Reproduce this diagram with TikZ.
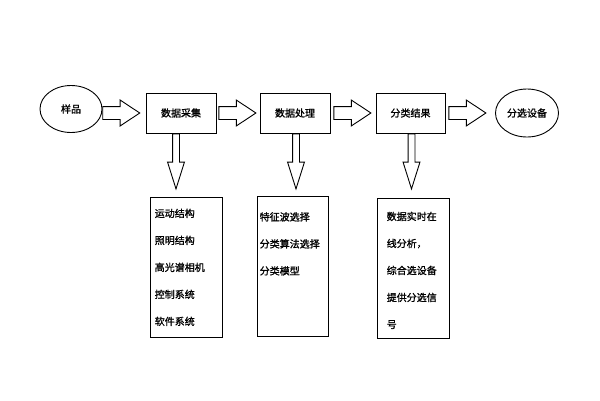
\documentclass[tikz,border=0pt]{standalone}
\usepackage{fontspec}
\usepackage{tikz}
\usetikzlibrary{shapes.geometric, shapes.arrows, positioning, calc}
\newfontfamily\cjk[FakeBold=1.2]{Noto Sans CJK SC}

\begin{document}
\begin{tikzpicture}[x=1pt, y=-1pt, font=\cjk\fontsize{10}{12}\selectfont,
  box/.style={draw, line width=0.9pt, minimum width=70pt, minimum height=40pt},
  oval/.style={draw, ellipse, line width=0.9pt, inner sep=0pt},
  listbox/.style={draw, line width=0.9pt, minimum width=72pt, minimum height=140pt},
  listtext/.style={anchor=north west, inner sep=0pt, align=left, font=\cjk\fontsize{10}{27}\selectfont},
  rarrow/.style={draw, line width=0.9pt, single arrow, inner sep=6pt, single arrow head extend=6.5pt, single arrow tip angle=67, minimum height=37pt},
  darrow/.style={draw, line width=0.9pt, single arrow, shape border rotate=270, inner sep=3pt, single arrow head extend=5pt, single arrow tip angle=35, minimum height=55pt}]
  \useasboundingbox (0,0) rectangle (600,400);

  % top row
  \node (sample) [oval, minimum width=62pt, minimum height=47pt] at (71,109) {样品};
  \node (collect) [box] at (181,113) {数据采集};
  \node (process) [box] at (295,113) {数据处理};
  \node (result) [box, minimum width=69pt] at (410.5,113) {分类结果};
  \node (device) [oval, minimum width=63pt, minimum height=48pt] at (527,113) {分选设备};

  \node (a1) [rarrow, anchor=tip] at ([xshift=-5pt]collect.west) {};
  \node (a2) [rarrow, anchor=tail] at ([xshift=2pt]collect.east) {};
  \node (a3) [rarrow, anchor=tail] at ([xshift=3pt]process.east) {};
  \node (a4) [rarrow, anchor=tail] at ([xshift=3pt]result.east) {};

  % bottom row
  \node (parts) [listbox] at (186,267) {};
  \node (method) [listbox, minimum width=71pt] at (292.5,266.5) {};
  \node (output) [listbox] at (413,268) {};

  \node (d1) [darrow, anchor=tail] at ([xshift=-5pt]collect.south) {};
  \node (d2) [darrow, anchor=tail] at ([xshift=1pt]process.south) {};
  \node (d3) [darrow, anchor=tail] at ([xshift=1pt]result.south) {};

  \node (partstext) [listtext] at ([xshift=5pt, yshift=-12pt]parts.north west)
    {运动结构\\照明结构\\高光谱相机\\控制系统\\软件系统};
  \node (methodtext) [listtext] at ([xshift=3pt, yshift=-16pt]method.north west)
    {特征波选择\\分类算法选择\\分类模型};
  \node (outputtext) [listtext] at ([xshift=10pt, yshift=-14pt]output.north west)
    {数据实时在\\线分析，\\综合选设备\\提供分选信\\号};
\end{tikzpicture}
\end{document}
